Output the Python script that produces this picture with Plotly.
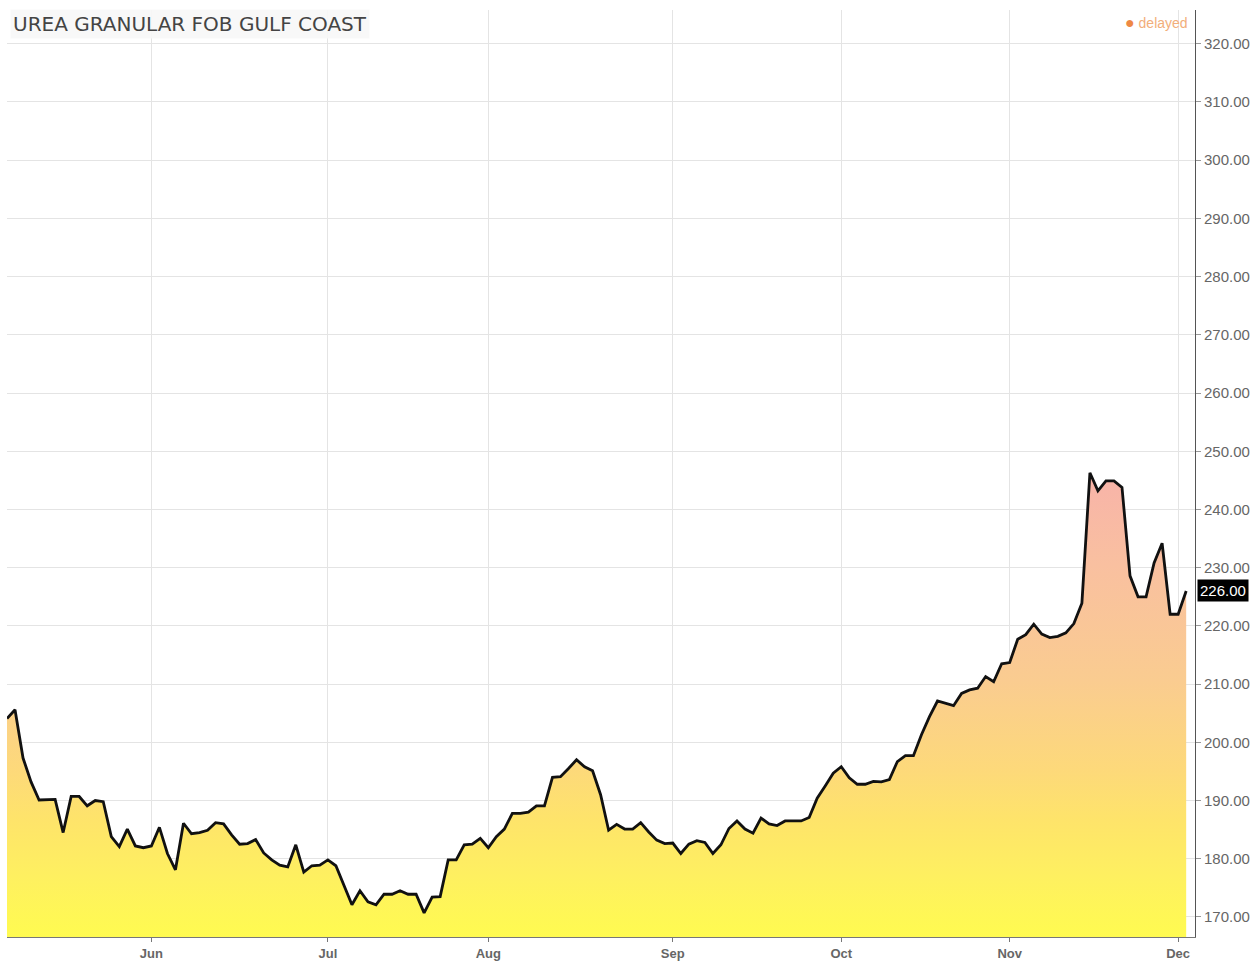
import pandas as pd
import plotly.graph_objects as go

# ---- data (daily close, trading days May 5 2016 - Dec 2 2016) ----
HOLIDAYS = ["2016-05-30", "2016-07-04", "2016-09-05", "2016-11-24"]
START, END = "2016-05-05", "2016-12-02"

may_vals = [204.1, 205.6, 197.3, 193.2, 190.1, 190.1, 190.2, 184.5, 190.7, 190.7,
            189.1, 190.0, 189.8, 183.8, 182.1, 185.1, 182.2, 181.9]
jun_vals = [182.2, 185.4, 180.9, 178.1, 186.1, 184.3, 184.5, 184.9, 186.2, 186.0,
            184.1, 182.5, 182.6, 183.3, 181.0, 179.8, 178.9, 178.6, 182.4, 177.7,
            178.8, 178.9]
jul_vals = [179.8, 178.8, 175.5, 172.1, 174.5, 172.6, 172.1, 173.9, 173.9, 174.5,
            173.9, 173.9, 170.7, 173.4, 173.5, 179.8, 179.8, 182.4, 182.5, 183.5]
aug_vals = [181.9, 183.8, 185.1, 187.8, 187.8, 188.0, 189.1, 189.1, 194.0, 194.1,
            195.5, 197.0, 195.8, 195.1, 191.0, 184.9, 185.9, 185.1, 185.1, 186.2,
            184.6, 183.2, 182.6]
sep_vals = [182.7, 180.9, 182.5, 183.1, 182.8, 180.9, 182.4, 185.2, 186.5, 185.1,
            184.4, 187.0, 186.0, 185.7, 186.5, 186.5, 186.5, 187.1, 190.4, 192.5,
            194.7]
oct_vals = [195.8, 193.9, 192.8, 192.8, 193.3, 193.2, 193.6, 196.7, 197.7, 197.7,
            201.3, 204.4, 207.1, 206.7, 206.3, 208.4, 209.0, 209.3, 211.3, 210.4,
            213.5]
nov_vals = [213.7, 217.7, 218.5, 220.3, 218.6, 218.0, 218.2, 218.8, 220.4, 223.9,
            246.3, 243.2, 244.9, 244.9, 243.8, 228.6, 225.0, 225.0, 230.8, 234.2,
            222.0]
dec_vals = [222.0, 226.0]

month_ticks = ["2016-06-01", "2016-07-01", "2016-08-01", "2016-09-01",
               "2016-10-03", "2016-11-01", "2016-12-01"]
month_labels = ["Jun", "Jul", "Aug", "Sep", "Oct", "Nov", "Dec"]
y_ticks = list(range(170, 321, 10))

values = may_vals + jun_vals + jul_vals + aug_vals + sep_vals + oct_vals + nov_vals + dec_vals
dates = [d.strftime("%Y-%m-%d") for d in
         pd.bdate_range(START, END, freq="C", holidays=HOLIDAYS)]
assert len(dates) == len(values), (len(dates), len(values))

fig = go.Figure()
fig.add_trace(go.Scatter(
    x=dates, y=values, mode="lines",
    line=dict(color="#111111", width=2.8),
    fill="tozeroy",
    fillgradient=dict(
        type="vertical",
        start=166.5, stop=246.5,
        colorscale=[[0.0, "#FFFB50"], [0.13, "#FEF060"], [0.25, "#FEE46A"],
                    [0.36, "#FDD97A"], [0.55, "#FACC90"], [0.8, "#F9C0A0"],
                    [1.0, "#F8B3A9"]],
    ),
    hoverinfo="x+y", showlegend=False,
))

fig.update_layout(
    width=1255, height=961,
    margin=dict(l=7, r=60, t=10, b=24, autoexpand=False),
    paper_bgcolor="white", plot_bgcolor="white",
    font=dict(family="Liberation Sans, Arial, sans-serif", color="#666666", size=13),
    xaxis=dict(
        type="category", range=[0, 148.1], automargin=False,
        tickvals=month_ticks, ticktext=[f"<b>{m}</b>" for m in month_labels],
        showgrid=True, gridcolor="#E4E4E4", gridwidth=1,
        showline=True, linecolor="#777777", linewidth=1,
        ticks="outside", ticklen=4, tickcolor="#777777",
        tickfont=dict(size=13, color="#666666"),
        zeroline=False, fixedrange=True,
    ),
    yaxis=dict(
        side="right", range=[166.56, 325.8], automargin=False,
        tickvals=y_ticks, tickformat=".2f",
        showgrid=True, gridcolor="#E4E4E4", gridwidth=1,
        showline=True, linecolor="#555555", linewidth=1,
        ticks="outside", ticklen=5, tickcolor="#999999",
        tickfont=dict(size=15, color="#666666"),
        zeroline=False,
    ),
    annotations=[
        dict(text="UREA GRANULAR FOB GULF COAST", xref="paper", yref="paper",
             x=0.0, y=1.0, xanchor="left", yanchor="top", xshift=3, yshift=1,
             showarrow=False, bgcolor="rgba(247,247,247,0.9)",
             borderpad=2,
             font=dict(family="DejaVu Sans, sans-serif", size=20, color="#444444")),
        dict(text="<span style='color:#EE8844;font-size:16px'>●</span> delayed",
             xref="paper", yref="paper",
             x=1.0, y=1.0, xanchor="right", yanchor="top", xshift=-5, yshift=-2,
             showarrow=False,
             font=dict(size=14, color="#F2AE7A")),
        dict(text=f"{values[-1]:.2f}", xref="paper", yref="y",
             x=1.0, y=values[-1], xanchor="left", yanchor="middle", xshift=2,
             showarrow=False, bgcolor="#000000", borderpad=2,
             font=dict(size=15, color="#FFFFFF")),
    ],
)

fig.write_html("out.html", config={"displayModeBar": False},
               post_script="document.body.style.margin='0';")
